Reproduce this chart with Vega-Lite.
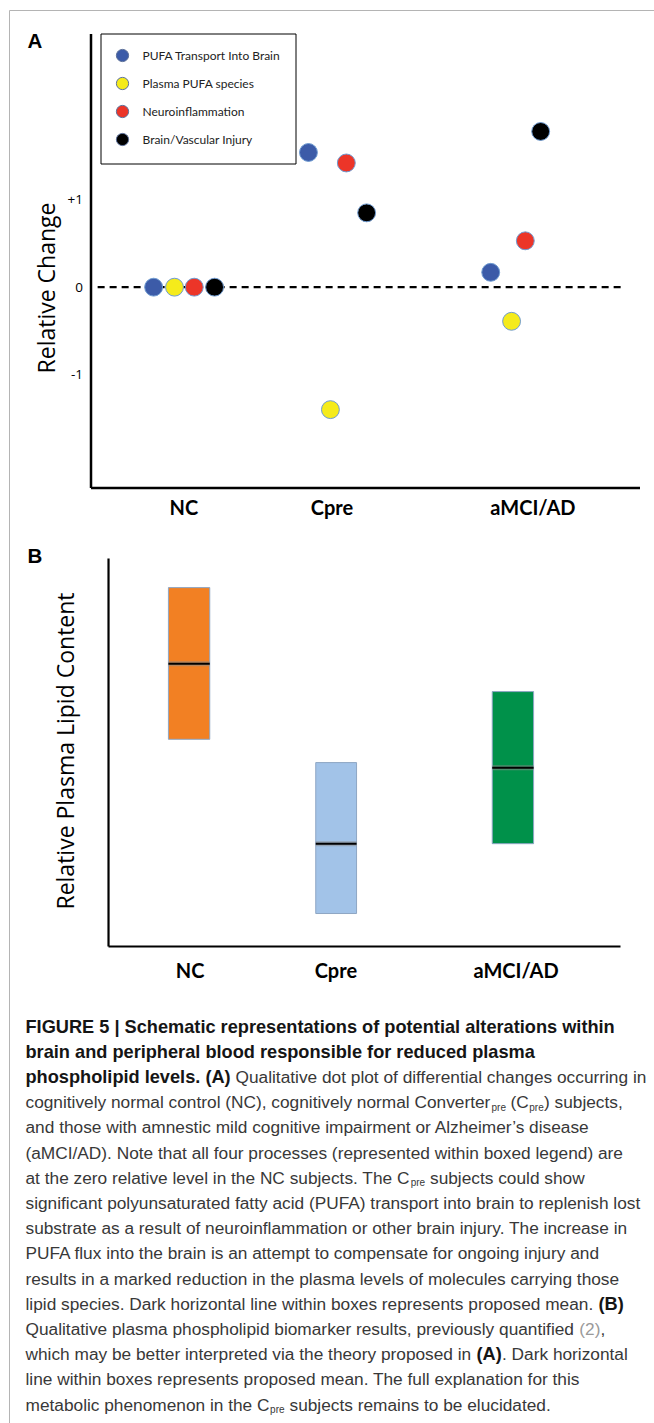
{
  "$schema": "https://vega.github.io/schema/vega-lite/v6.json",
  "background": "white",
  "padding": {"left": 8.5, "top": 9.5, "right": 0, "bottom": 0},
  "bounds": "flush",
  "spacing": 71,
  "resolve": {"scale": {"fill": "independent"}, "legend": {"fill": "independent"}},
  "config": {
    "view": {"stroke": null},
    "axis": {"grid": false, "ticks": false, "tickSize": 0}
  },
  "vconcat": [
    {
      "width": 549,
      "height": 454,
      "title": {
        "text": "A", "anchor": "start", "frame": "group", "offset": -35,
        "baseline": "alphabetic", "dx": -63,
        "font": "Liberation Sans", "fontSize": 20.5, "fontWeight": "bold", "color": "black"
      },
      "layer": [
        {
          "data": {"values": [{"x": 0.13, "x2": 9.74, "y": 0}]},
          "mark": {"type": "rule", "color": "black", "strokeWidth": 2.2, "strokeDash": [7, 5]},
          "encoding": {
            "x": {
              "field": "x", "type": "quantitative",
              "scale": {"domain": [0, 10], "nice": false, "zero": false},
              "axis": {
                "title": null,
                "values": [1.69, 4.39, 8.05],
                "labelExpr": "datum.value < 3 ? 'NC' : datum.value < 6 ? 'Cpre' : 'aMCI/AD'",
                "domainColor": "black", "domainWidth": 2.5,
                "labelFont": "Lato", "labelFontSize": 20, "labelFontWeight": "bold",
                "labelColor": "black", "labelPadding": 11,
                "labelFlush": false, "labelOverlap": false, "labelBound": false
              }
            },
            "x2": {"field": "x2"},
            "y": {
              "field": "y", "type": "quantitative",
              "scale": {"domain": [-2.29, 2.9], "nice": false, "zero": false},
              "axis": {
                "values": [-1, 0, 1],
                "labelExpr": "datum.value > 0 ? '+1' : datum.value < 0 ? '-1' : '0'",
                "title": "Relative Change",
                "titleFont": "Open Sans", "titleFontSize": 23, "titleFontWeight": "normal",
                "titleColor": "black", "titleAngle": -90, "titleBaseline": "middle",
                "titleAlign": "center", "titleX": -43, "titleY": 254,
                "domainColor": "black", "domainWidth": 2.5,
                "labelFont": "Open Sans", "labelFontSize": 13.5, "labelColor": "black",
                "labelPadding": 8
              }
            }
          }
        },
        {
          "data": {
            "values": [
              {"group": "NC", "process": "PUFA Transport Into Brain", "x": 1.15, "y": 0},
              {"group": "NC", "process": "Plasma PUFA species", "x": 1.53, "y": 0},
              {"group": "NC", "process": "Neuroinflammation", "x": 1.89, "y": 0},
              {"group": "NC", "process": "Brain/Vascular Injury", "x": 2.26, "y": 0},
              {"group": "Cpre", "process": "PUFA Transport Into Brain", "x": 3.97, "y": 1.54},
              {"group": "Cpre", "process": "Plasma PUFA species", "x": 4.37, "y": -1.4},
              {"group": "Cpre", "process": "Neuroinflammation", "x": 4.66, "y": 1.42},
              {"group": "Cpre", "process": "Brain/Vascular Injury", "x": 5.03, "y": 0.85},
              {"group": "aMCI/AD", "process": "PUFA Transport Into Brain", "x": 7.29, "y": 0.17},
              {"group": "aMCI/AD", "process": "Plasma PUFA species", "x": 7.67, "y": -0.39},
              {"group": "aMCI/AD", "process": "Neuroinflammation", "x": 7.92, "y": 0.53},
              {"group": "aMCI/AD", "process": "Brain/Vascular Injury", "x": 8.2, "y": 1.78}
            ]
          },
          "mark": {"type": "point", "shape": "circle", "filled": true, "size": 320, "opacity": 1, "stroke": "#6f9bd1", "strokeWidth": 1},
          "encoding": {
            "x": {"field": "x", "type": "quantitative", "scale": {"domain": [0, 10], "nice": false, "zero": false}},
            "y": {"field": "y", "type": "quantitative", "scale": {"domain": [-2.29, 2.9], "nice": false, "zero": false}},
            "fill": {
              "field": "process", "type": "nominal",
              "scale": {
                "domain": ["PUFA Transport Into Brain", "Plasma PUFA species", "Neuroinflammation", "Brain/Vascular Injury"],
                "range": ["#3c5ba8", "#f5eb1b", "#ec3528", "#000000"]
              },
              "legend": {
                "orient": "none", "legendX": 10, "legendY": 0, "title": null,
                "direction": "vertical", "strokeColor": "black", "fillColor": "white",
                "padding": 15, "rowPadding": 10,
                "symbolType": "circle", "symbolSize": 150, "symbolOpacity": 1,
                "symbolStrokeColor": "#5b6f99", "symbolStrokeWidth": 1,
                "labelFont": "Lato", "labelFontSize": 12, "labelColor": "#222222",
                "labelOffset": 13, "labelLimit": 300
              }
            }
          }
        }
      ]
    },
    {
      "width": 530,
      "height": 388,
      "title": {
        "text": "B", "anchor": "start", "frame": "group", "offset": -26,
        "baseline": "alphabetic", "dx": -63,
        "font": "Liberation Sans", "fontSize": 20.5, "fontWeight": "bold", "color": "black"
      },
      "data": {
        "values": [
          {"group": "NC", "x1": 1.47, "x2": 2.25, "lo": 5.34, "hi": 9.25, "mean": 7.29},
          {"group": "Cpre", "x1": 4.25, "x2": 5.02, "lo": 0.85, "hi": 4.74, "mean": 2.65},
          {"group": "aMCI/AD", "x1": 7.58, "x2": 8.36, "lo": 2.65, "hi": 6.57, "mean": 4.61}
        ]
      },
      "layer": [
        {
          "data": {
            "values": [
              {"x": 0.34, "x2": 0.34, "y": 0, "y2": 10},
              {"x": 0.34, "x2": 10, "y": 0, "y2": 0}
            ]
          },
          "mark": {"type": "rule", "color": "black", "strokeWidth": 2.2},
          "encoding": {
            "x": {
              "field": "x", "type": "quantitative",
              "scale": {"domain": [0, 10], "nice": false, "zero": false},
              "axis": {
                "title": null, "domain": false,
                "values": [1.87, 4.62, 8.02],
                "labelExpr": "datum.value < 3 ? 'NC' : datum.value < 6 ? 'Cpre' : 'aMCI/AD'",
                "labelFont": "Lato", "labelFontSize": 20, "labelFontWeight": "bold",
                "labelColor": "black", "labelPadding": 15,
                "labelFlush": false, "labelOverlap": false, "labelBound": false
              }
            },
            "x2": {"field": "x2"},
            "y": {
              "field": "y", "type": "quantitative",
              "scale": {"domain": [0, 10], "nice": false, "zero": false},
              "axis": {
                "domain": false, "labels": false, "values": [],
                "title": "Relative Plasma Lipid Content",
                "titleFont": "Open Sans", "titleFontSize": 23, "titleFontWeight": "normal",
                "titleColor": "black", "titleAngle": -90, "titleBaseline": "middle",
                "titleAlign": "center", "titleX": -24, "titleY": 192
              }
            },
            "y2": {"field": "y2"}
          }
        },
        {
          "mark": {"type": "rect", "stroke": "#8ea6c4", "strokeWidth": 1},
          "encoding": {
            "x": {"field": "x1", "type": "quantitative"},
            "x2": {"field": "x2"},
            "y": {"field": "lo", "type": "quantitative"},
            "y2": {"field": "hi"},
            "fill": {
              "field": "group", "type": "nominal",
              "scale": {"domain": ["NC", "Cpre", "aMCI/AD"], "range": ["#f28023", "#a2c3e8", "#00914a"]},
              "legend": null
            }
          }
        },
        {
          "mark": {"type": "rule", "color": "#8c8c8c", "strokeWidth": 5, "opacity": 0.55},
          "encoding": {
            "x": {"field": "x1", "type": "quantitative"},
            "x2": {"field": "x2"},
            "y": {"field": "mean", "type": "quantitative"}
          }
        },
        {
          "mark": {"type": "rule", "color": "black", "strokeWidth": 2},
          "encoding": {
            "x": {"field": "x1", "type": "quantitative"},
            "x2": {"field": "x2"},
            "y": {"field": "mean", "type": "quantitative"}
          }
        }
      ]
    },
    {
      "width": 530,
      "height": 403.2,
      "encoding": {
        "x": {"field": "x", "type": "quantitative", "scale": {"domain": [65, 595], "nice": false, "zero": false}, "axis": null},
        "y": {"field": "line", "type": "quantitative", "scale": {"domain": [0.6, 16.6], "reverse": true, "nice": false, "zero": false}, "axis": null}
      },
      "layer": [
        {
          "data": {
            "values": [
              {"x": -16, "x2": -16, "line": -39.36, "line2": 16.71},
              {"x": -16, "x2": 629, "line": -39.36, "line2": -39.36}
            ]
          },
          "mark": {"type": "rule", "color": "#b4b4b4", "strokeWidth": 1},
          "encoding": {"x2": {"field": "x2"}, "y2": {"field": "line2"}}
        },
        {
          "data": {
            "values": [
              {"line": 1, "x": 0, "s": "b", "t": "FIGURE 5 | Schematic representations of potential alterations within"},
              {"line": 2, "x": 0, "s": "b", "t": "brain and peripheral blood responsible for reduced plasma"},
              {"line": 3, "x": 0, "s": "b", "t": "phospholipid levels. (A)"},
              {"line": 3, "x": 210, "s": "r", "t": "Qualitative dot plot of differential changes occurring in"},
              {"line": 4, "x": 0, "s": "r", "t": "cognitively normal control (NC), cognitively normal Converter"},
              {"line": 4.18, "x": 466, "s": "sub", "t": "pre"},
              {"line": 4, "x": 485, "s": "r", "t": "(C"},
              {"line": 4.18, "x": 503.8, "s": "sub", "t": "pre"},
              {"line": 4, "x": 518.5, "s": "r", "t": ") subjects,"},
              {"line": 5, "x": 0, "s": "r", "t": "and those with amnestic mild cognitive impairment or Alzheimer’s disease"},
              {"line": 6, "x": 0, "s": "r", "t": "(aMCI/AD). Note that all four processes (represented within boxed legend) are"},
              {"line": 7, "x": 0, "s": "r", "t": "at the zero relative level in the NC subjects. The C"},
              {"line": 7.18, "x": 385.2, "s": "sub", "t": "pre"},
              {"line": 7, "x": 404.5, "s": "r", "t": "subjects could show"},
              {"line": 8, "x": 0, "s": "r", "t": "significant polyunsaturated fatty acid (PUFA) transport into brain to replenish lost"},
              {"line": 9, "x": 0, "s": "r", "t": "substrate as a result of neuroinflammation or other brain injury. The increase in"},
              {"line": 10, "x": 0, "s": "r", "t": "PUFA flux into the brain is an attempt to compensate for ongoing injury and"},
              {"line": 11, "x": 0, "s": "r", "t": "results in a marked reduction in the plasma levels of molecules carrying those"},
              {"line": 12, "x": 0, "s": "r", "t": "lipid species. Dark horizontal line within boxes represents proposed mean."},
              {"line": 12, "x": 573, "s": "b", "t": "(B)"},
              {"line": 13, "x": 0, "s": "r", "t": "Qualitative plasma phospholipid biomarker results, previously quantified"},
              {"line": 13, "x": 553.8, "s": "g", "t": "(2)"},
              {"line": 13, "x": 575, "s": "r", "t": ","},
              {"line": 14, "x": 0, "s": "r", "t": "which may be better interpreted via the theory proposed in"},
              {"line": 14, "x": 451, "s": "b", "t": "(A)"},
              {"line": 14, "x": 476.5, "s": "r", "t": ". Dark horizontal"},
              {"line": 15, "x": 0, "s": "r", "t": "line within boxes represents proposed mean. The full explanation for this"},
              {"line": 16, "x": 0, "s": "r", "t": "metabolic phenomenon in the C"},
              {"line": 16.18, "x": 244.6, "s": "sub", "t": "pre"},
              {"line": 16, "x": 264, "s": "r", "t": "subjects remains to be elucidated."}
            ]
          },
          "encoding": {"text": {"field": "t"}},
          "layer": [
            {
              "transform": [{"filter": "datum.s == 'r'"}],
              "mark": {"type": "text", "align": "left", "baseline": "middle", "font": "Liberation Sans", "fontSize": 17.3, "color": "#383838"}
            },
            {
              "transform": [{"filter": "datum.s == 'b'"}],
              "mark": {"type": "text", "align": "left", "baseline": "middle", "font": "Liberation Sans", "fontSize": 18.2, "fontWeight": "bold", "color": "#151515"}
            },
            {
              "transform": [{"filter": "datum.s == 'sub'"}],
              "mark": {"type": "text", "align": "left", "baseline": "middle", "font": "Liberation Sans", "fontSize": 10, "color": "#383838"}
            },
            {
              "transform": [{"filter": "datum.s == 'g'"}],
              "mark": {"type": "text", "align": "left", "baseline": "middle", "font": "Liberation Sans", "fontSize": 17.3, "color": "#9a9a9a"}
            }
          ]
        }
      ]
    }
  ]
}
